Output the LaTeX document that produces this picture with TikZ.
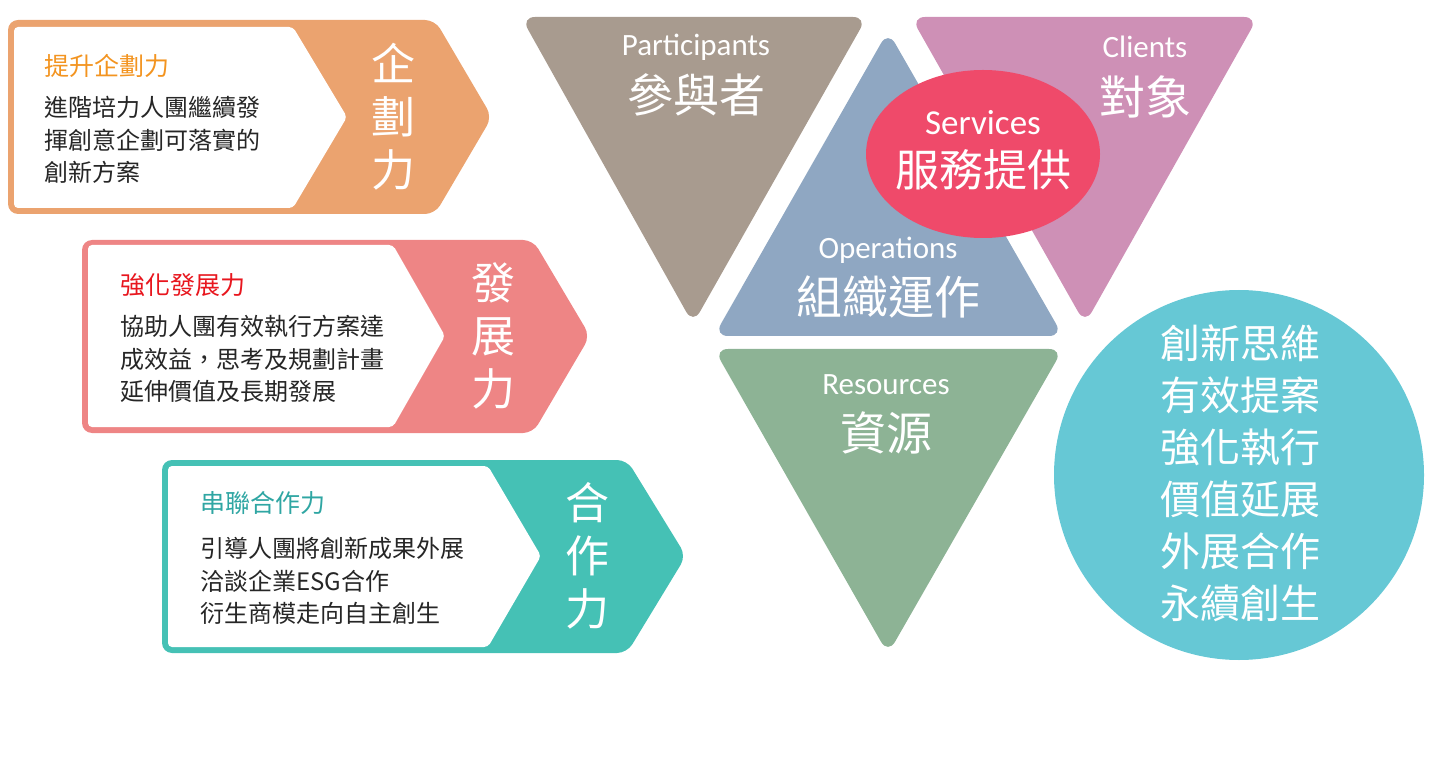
\documentclass[tikz,border=0pt]{standalone}
\usepackage{fontspec}
\setmainfont{Noto Sans CJK TC}
\newfontfamily\latinfont{Carlito}
\usetikzlibrary{positioning, shapes.geometric}
\definecolor{plancol}{HTML}{EBA36F}
\definecolor{plantitle}{HTML}{F39420}
\definecolor{growcol}{HTML}{EE8585}
\definecolor{growtitle}{HTML}{E8161E}
\definecolor{teamcol}{HTML}{45C1B5}
\definecolor{teamtitle}{HTML}{2FA6A3}
\definecolor{partcol}{HTML}{A89B8F}
\definecolor{opscol}{HTML}{8FA7C2}
\definecolor{clientcol}{HTML}{CE90B6}
\definecolor{servcol}{HTML}{EF4A6A}
\definecolor{rescol}{HTML}{8DB395}
\definecolor{goalcol}{HTML}{66C8D5}
\tikzset{
  band/.style    ={rounded corners=5pt},                       % coloured arrow band
  inner/.style   ={fill=white, rounded corners=2pt},           % white panel inside band
  tri/.style     ={rounded corners=7pt},
  ttl/.style     ={anchor=west, inner sep=0pt, font=\fontsize{12.5}{15}\selectfont},
  body/.style    ={anchor=west, inner sep=0pt, align=left, text=black!85, font=\fontsize{12}{16.25}\selectfont},
  vert/.style    ={inner sep=0pt, align=center, text=white, font=\fontsize{22}{26.5}\selectfont},
  eng/.style     ={inner sep=0pt, text=white, font=\latinfont\fontsize{15.5}{18}\selectfont},
  big/.style     ={inner sep=0pt, text=white, font=\fontsize{23}{26}\selectfont},
}

\begin{document}
\begin{tikzpicture}[x=0.5pt, y=-0.5pt]
  \useasboundingbox (0,0) rectangle (1434,780);

  % three arrow panels
  \fill[plancol, band] (8,20) -- (435,20) -- (492,117) -- (435,214) -- (8,214) -- cycle;
  \fill[inner] (14,27) -- (293,27) -- (347,117) -- (293,208) -- (14,208) -- cycle;
  \node[ttl, text=plantitle] (plant) at (44,66) {提升企劃力};
  \node[body] (planb) at (44,140) {進階培力人團繼續發\\揮創意企劃可落實的\\創新方案};
  \node[vert] (planv) at (393,117) {企\\劃\\力};

  \fill[growcol, band] (82,240) -- (533,240) -- (590,336) -- (533,433) -- (82,433) -- cycle;
  \fill[inner] (88,245) -- (393,245) -- (445,336) -- (393,427) -- (88,427) -- cycle;
  \node[ttl, text=growtitle] (growt) at (120,285) {強化發展力};
  \node[body] (growb) at (120,359) {協助人團有效執行方案達\\成效益，思考及規劃計畫\\延伸價值及長期發展};
  \node[vert] (growv) at (493,336) {發\\展\\力};

  \fill[teamcol, band] (162,460) -- (627,460) -- (686,556) -- (627,653) -- (162,653) -- cycle;
  \fill[inner] (168,466) -- (488,466) -- (541,556) -- (488,647) -- (168,647) -- cycle;
  \node[ttl, text=teamtitle] (teamt) at (200,503) {串聯合作力};
  \node[body] (teamb) at (200,581) {引導人團將創新成果外展\\洽談企業ESG合作\\衍生商模走向自主創生};
  \node[vert] (teamv) at (587,556) {合\\作\\力};

  % triangles
  \fill[partcol, tri] (521,17) -- (867,17) -- (693,324) -- cycle;
  \fill[opscol, tri] (888,31) -- (1063,336) -- (714,336) -- cycle;
  \fill[clientcol, tri] (911,17) -- (1258,17) -- (1085,324) -- cycle;
  \fill[rescol, tri] (714,349) -- (1063,349) -- (888,654) -- cycle;
  \node[ellipse, fill=servcol, minimum width=117pt, minimum height=84pt, inner sep=0pt] (serv) at (983,154) {};
  \node[circle, fill=goalcol, minimum size=185pt, inner sep=0pt] (goal) at (1239,475) {};

  \node[eng] (partE) at (696,47) {Participants};
  \node[big] (partC) at (696,95) {參與者};
  \node[eng] (clientE) at (1145,47) {Clients};
  \node[big] (clientC) at (1145,97) {對象};
  \node[eng, font=\latinfont\fontsize{17.5}{20}\selectfont] (servE) at (983,123) {Services};
  \node[big, font=\fontsize{22}{26}\selectfont] (servC) at (983,170) {服務提供};
  \node[eng] (opsE) at (888,250) {Operations};
  \node[big] (opsC) at (888,297) {組織運作};
  \node[eng] (resE) at (886,385) {Resources};
  \node[big] (resC) at (886,433) {資源};

  \node[vert, font=\fontsize{20}{26}\selectfont] (goalt) at (1240,473)
    {創新思維\\有效提案\\強化執行\\價值延展\\外展合作\\永續創生};
\end{tikzpicture}
\end{document}
